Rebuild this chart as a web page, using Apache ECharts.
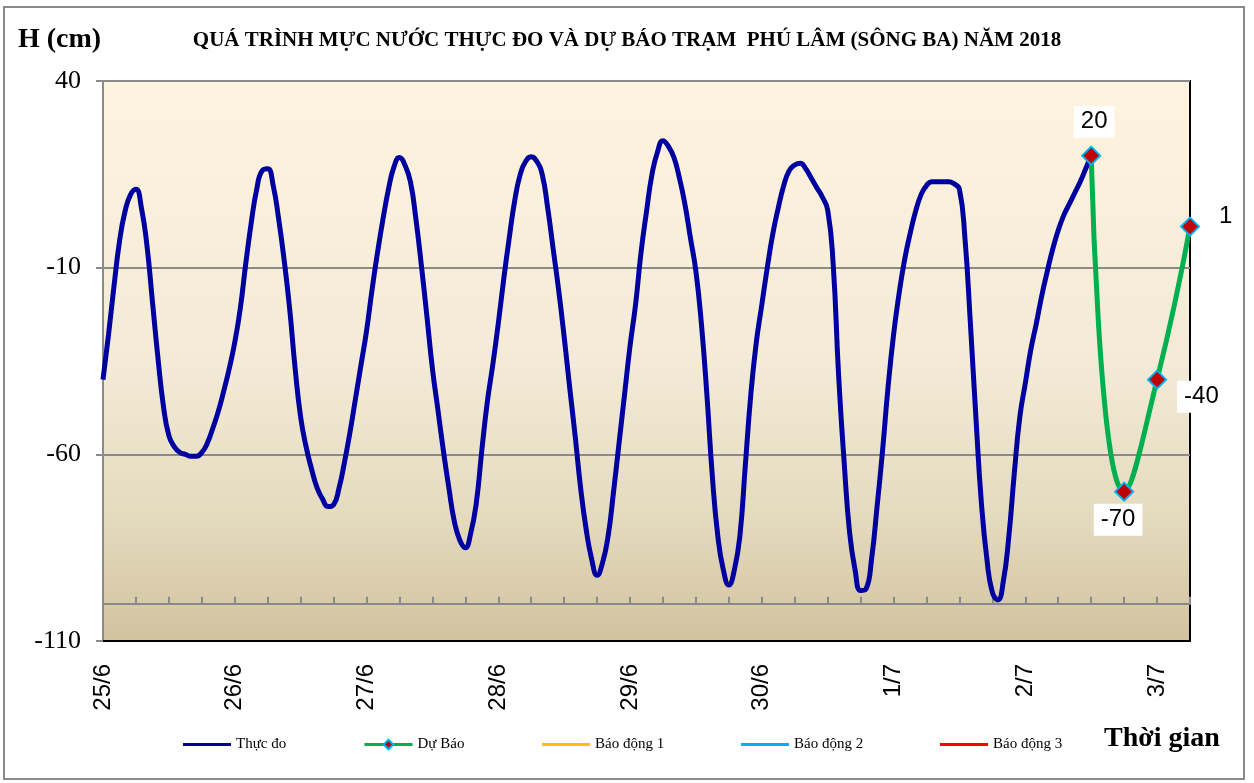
<!DOCTYPE html>
<html>
<head>
<meta charset="utf-8">
<script src="https://cdn.jsdelivr.net/npm/echarts@6/dist/echarts.min.js"></script>
<style>
html,body{margin:0;padding:0;background:#fff;}
#chart{width:1254px;height:783px;}
</style>
</head>
<body>
<div id="chart"></div>
<script>
// Day labels (one category per hour, 25/6 00h .. 3/7 06h)
const days = ['25/6','26/6','27/6','28/6','29/6','30/6','1/7','2/7','3/7'];
const hourCount = 199;
const yTicks = [-110, -60, -10, 40];

// Observed water level (cm), hourly from 25/6 00h to 2/7 12h
const obsLevels = [
 -40,-28,-15,-3,5,9.5,11,6,-4,-19,-34,-47,-55,-58,-59.5,-60,-60.5,-60.5,-59.5,-57,-53,-48.5,-43,-37,
 -30,-21,-9,2,11,16,16.5,12,3,-8,-21,-37,-50,-58,-64,-69,-72,-74,-73.5,-69,-62,-54,-45,-36,
 -27,-16,-6,3,11,17,19.5,17.5,13,3,-9.5,-23,-37,-48,-59,-69,-78,-83,-85,-81,-73,-59,-46,-36,
 -25,-13,-2,8,15,18.5,19.7,18.5,15,6,-5,-16,-28.5,-42,-55,-69,-80,-88,-92.4,-89,-82,-70,-57,-44,
 -31,-20,-6,5,15,21,24,22.5,19.5,14,7,-2,-11,-25,-44,-66,-82,-91,-95,-91,-82,-63,-44,-30,
 -20,-10,-1,6,12,16,17.5,18,16.5,14,11.5,9,5.5,-9,-39,-62,-81,-91,-96.5,-96,-88,-74,-59,-42,
 -28,-17,-8,-1,5,9.5,12,13,13,13,13,12.5,11,-2,-25,-50,-73,-88,-97,-99,-94,-82,-65,-50,
 -41,-32,-25,-17.5,-11,-5,0,4,7,10,13,16.5,20
];

// Forecast (hour index, level)
const fcHours = [180, 186, 192, 198];
const fcLevels = [20, -70, -40, 1];

const categories = [];
for (let i = 0; i < hourCount; i++) {
  categories.push(days[Math.floor(i / 24)] + ' ' + (i % 24) + 'h');
}

const labelBase = {
  show: true, color: '#000', fontFamily: 'Liberation Sans', fontSize: 24,
  backgroundColor: '#fff', padding: [4, 7]
};
const fcLabelCfg = [
  { position: 'top', distance: 8, offset: [3, 0] },
  { position: 'bottom', distance: 2, offset: [-6, 0] },
  { position: 'right', distance: 10, offset: [0, 17] },
  { position: 'right', distance: 12, offset: [0, -10] }
];
const fcData = fcHours.map((h, i) => ({
  value: [h, fcLevels[i]],
  label: Object.assign({}, labelBase, fcLabelCfg[i])
}));

const chart = echarts.init(document.getElementById('chart'));
const gridTop = 81, gridH = 560, yMin = -110, yMax = 40;
const axisAt = -100;
const offset100 = -((axisAt - yMin) / (yMax - yMin)) * gridH;

const legendNames = ['Thực đo', 'Dự Báo', 'Báo động 1', 'Báo động 2', 'Báo động 3'];
const legendLefts = [183, 363, 542, 741, 940];

const option = {
  animation: false,
  backgroundColor: '#fff',
  title: {
    text: 'QUÁ TRÌNH MỰC NƯỚC THỰC ĐO VÀ DỰ BÁO TRẠM  PHÚ LÂM (SÔNG BA) NĂM 2018',
    left: 'center', top: 25,
    textStyle: { fontFamily: 'Liberation Serif', fontWeight: 'bold', fontSize: 21, color: '#000' }
  },
  legend: legendNames.map((n, i) => ({
    data: [n], left: legendLefts[i], top: 737, padding: 0,
    itemWidth: 48, itemHeight: i === 1 ? 12 : 3,
    icon: i === 1 ? undefined : 'rect',
    lineStyle: { width: 3 },
    textStyle: { fontFamily: 'Liberation Serif', fontSize: 15, color: '#000' }
  })),
  graphic: [
    { type: 'rect', shape: { x: 4, y: 7, width: 1240, height: 772 },
      style: { fill: 'none', stroke: '#8a8a8a', lineWidth: 2 }, z: -1 },
    { type: 'text', left: 18, top: 26,
      style: { text: 'H (cm)', font: 'bold 28px "Liberation Serif"', fill: '#000' } },
    { type: 'text', left: 1104, top: 725,
      style: { text: 'Thời gian', font: 'bold 28px "Liberation Serif"', fill: '#000' } }
  ],
  grid: {
    left: 103, top: gridTop, width: 1087, height: gridH, show: true,
    borderColor: '#000', borderWidth: 2,
    backgroundColor: new echarts.graphic.LinearGradient(0, 0, 0, 1, [
      { offset: 0, color: '#FEF3DE' },
      { offset: 0.5, color: '#F3EBD7' },
      { offset: 0.78, color: '#E4DABE' },
      { offset: 1, color: '#D2C39F' }
    ])
  },
  xAxis: [
    {
      type: 'category', data: categories, boundaryGap: false, position: 'bottom',
      axisLine: { onZero: false, lineStyle: { color: '#000', width: 2 } },
      axisTick: { show: false },
      axisLabel: {
        interval: 23, rotate: 90, margin: 23,
        fontFamily: 'Liberation Sans', fontSize: 24, color: '#000',
        formatter: v => v.split(' ')[0]
      },
      splitLine: { show: false }
    },
    {
      type: 'category', data: categories, boundaryGap: false, position: 'bottom',
      offset: offset100,
      axisLine: { onZero: false, lineStyle: { color: '#8a8a8a', width: 2 } },
      axisTick: { show: true, inside: true, interval: 5, length: 7, lineStyle: { color: '#8a8a8a', width: 2 } },
      axisLabel: { show: false },
      splitLine: { show: false }
    }
  ],
  yAxis: {
    type: 'value', min: yMin, max: yMax,
    axisLine: { show: true, onZero: false, lineStyle: { color: '#8a8a8a', width: 2 } },
    axisTick: { show: true, length: 7, customValues: yTicks, lineStyle: { color: '#8a8a8a', width: 2 } },
    axisLabel: { customValues: yTicks, margin: 22, fontFamily: 'Liberation Serif', fontSize: 26, color: '#000' },
    splitLine: { show: true, lineStyle: { color: '#8a8a8a', width: 2 } }
  },
  series: [
    {
      name: 'Thực đo', type: 'line', data: obsLevels, smooth: true, showSymbol: false,
      symbol: 'none', color: '#0000A0', lineStyle: { color: '#0000A0', width: 5 }, z: 3
    },
    {
      name: 'Dự Báo', type: 'line', data: fcData, smooth: true, clip: false,
      showSymbol: true, showAllSymbol: true,
      symbol: 'diamond', symbolSize: 18, color: '#00B050',
      lineStyle: { color: '#00B050', width: 5 },
      itemStyle: { color: '#C00000', borderColor: '#00B0F0', borderWidth: 2 }, z: 4
    },
    { name: 'Báo động 1', type: 'line', data: [], symbol: 'none', color: '#FFC000', lineStyle: { color: '#FFC000', width: 3 } },
    { name: 'Báo động 2', type: 'line', data: [], symbol: 'none', color: '#00B0F0', lineStyle: { color: '#00B0F0', width: 3 } },
    { name: 'Báo động 3', type: 'line', data: [], symbol: 'none', color: '#FF0000', lineStyle: { color: '#FF0000', width: 3 } }
  ]
};
chart.setOption(option);
</script>
</body>
</html>
